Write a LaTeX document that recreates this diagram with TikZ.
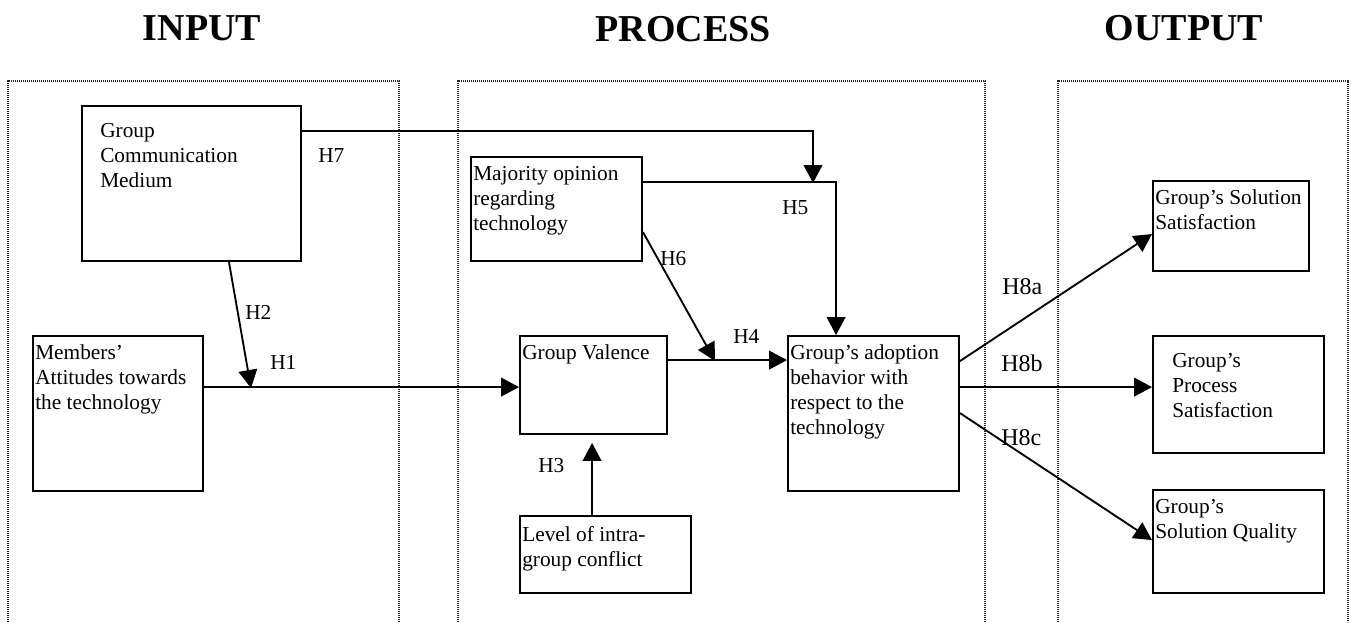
\documentclass[tikz,border=0pt]{standalone}
\usepackage{fontspec}
\setmainfont{Liberation Serif}
\usetikzlibrary{arrows.meta,fit}
\begin{document}
\begin{tikzpicture}[x=0.75pt,y=-0.75pt,
  box/.style={draw, line width=1.4pt, inner sep=0pt},
  txt/.style={anchor=north west, inner sep=0pt, align=left, font=\fontsize{16}{18.75}\selectfont},
  hyp/.style={anchor=west, inner sep=0pt, font=\fontsize{16}{18.75}\selectfont},
  hypb/.style={anchor=west, inner sep=0pt, font=\fontsize{18}{20}\selectfont},
  ttl/.style={font=\fontsize{28.5}{32}\selectfont\bfseries, inner sep=0pt},
  frm/.style={line width=0.9pt, black!85, dash pattern=on 0.8pt off 0.7pt},
  arr/.style={line width=1.4pt, -{Triangle[length=13.5pt,width=14pt]}},
  ln/.style={line width=1.4pt}]
\useasboundingbox (0,0) rectangle (1351,622);

% titles
\node[ttl] (tin) at (202,28) {INPUT};
\node[ttl] (tpr) at (683,29) {PROCESS};
\node[ttl] (tout) at (1184,28) {OUTPUT};

% dotted frames
\draw[frm] (8,622) -- (8,81) -- (399,81) -- (399,622);
\draw[frm] (458,622) -- (458,81) -- (985,81) -- (985,622);
\draw[frm] (1058,622) -- (1058,81) -- (1348,81) -- (1348,622);

% boxes
\node[box, fit={(82,106) (301,261)}] (gcm) {};
\node[txt] (gcmt) at (100,123) {Group\\Communication\\Medium};
\node[box, fit={(33,336) (203,491)}] (mem) {};
\node[txt] (memt) at (35,344) {Members’\\Attitudes towards\\the technology};
\node[box, fit={(471,157) (642,261)}] (maj) {};
\node[txt] (majt) at (473,166) {Majority opinion\\regarding\\technology};
\node[box, fit={(520,336) (667,434)}] (gv) {};
\node[txt] (gvt) at (522,344) {Group Valence};
\node[box, fit={(520,516) (691,593)}] (lvl) {};
\node[txt] (lvlt) at (522,526) {Level of intra-\\group conflict};
\node[box, fit={(788,336) (959,491)}] (adp) {};
\node[txt] (adpt) at (790,344) {Group’s adoption\\behavior with\\respect to the\\technology};
\node[box, fit={(1153,181) (1309,271)}] (ss) {};
\node[txt] (sst) at (1155,189) {Group’s Solution\\Satisfaction};
\node[box, fit={(1153,336) (1324,453)}] (ps) {};
\node[txt] (pst) at (1172,353) {Group’s\\Process\\Satisfaction};
\node[box, fit={(1153,490) (1324,593)}] (sq) {};
\node[txt] (sqt) at (1155,499) {Group’s\\Solution Quality};

% junction points on other connectors
\coordinate (h7j) at (813,183);
\coordinate (h6j) at (715,361);
\coordinate (h2j) at (251,388);

% connectors
\draw[arr] ([shift={(0,52)}]mem.north east) -- ([shift={(0,52)}]gv.north west);
\draw[arr] ([shift={(-73,0)}]gcm.south east) -- (h2j);
\draw[arr] ([shift={(73,0)}]lvl.north west) -- ([shift={(73,8)}]gv.south west);
\draw[arr] ([shift={(0,25)}]gv.north east) -- ([shift={(0,25)}]adp.north west);
\draw[arr] ([shift={(0,26)}]maj.north east) -| ([shift={(49,0)}]adp.north west);
\draw[arr] ([shift={(0,76)}]maj.north east) -- (h6j);
\draw[arr] ([shift={(0,26)}]gcm.north east) -| (h7j);
\draw[arr] ([shift={(0,26)}]adp.north east) -- ([shift={(0,54)}]ss.north west);
\draw[arr] ([shift={(0,52)}]adp.north east) -- ([shift={(0,52)}]ps.north west);
\draw[arr] ([shift={(0,78)}]adp.north east) -- ([shift={(0,51)}]sq.north west);

% hypothesis labels
\node[hyp] (lh7) at (318,156) {H7};
\node[hyp] (lh2) at (245,312) {H2};
\node[hyp] (lh1) at (270,362) {H1};
\node[hyp] (lh5) at (782,208) {H5};
\node[hyp] (lh6) at (660,259) {H6};
\node[hyp] (lh4) at (733,336) {H4};
\node[hyp] (lh3) at (538,466) {H3};
\node[hypb] (lh8a) at (1002,287) {H8a};
\node[hypb] (lh8b) at (1001,363) {H8b};
\node[hypb] (lh8c) at (1001,438) {H8c};
\end{tikzpicture}
\end{document}
